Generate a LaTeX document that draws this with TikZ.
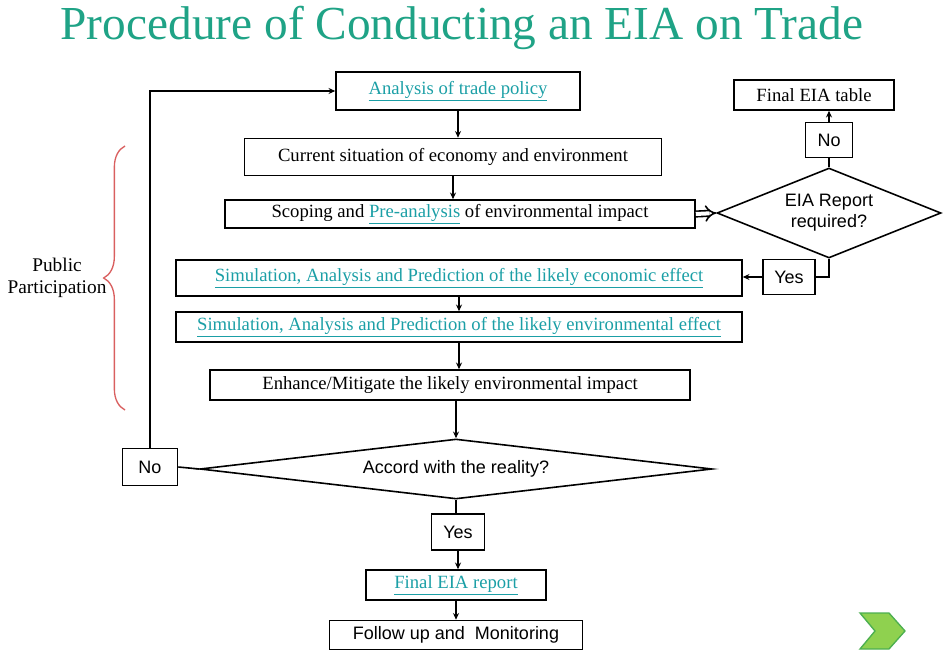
\documentclass[tikz,border=0pt]{standalone}
\usepackage{fontspec}
\setmainfont{Liberation Serif}
\setsansfont{Liberation Sans}
\usepackage{tikz}
\usetikzlibrary{arrows.meta,shapes.geometric,decorations.pathreplacing}
\definecolor{title}{HTML}{1FA386}
\definecolor{link}{HTML}{1B9FA6}
\definecolor{bracered}{HTML}{D95F5F}
\definecolor{chevfill}{HTML}{8FD14F}
\definecolor{chevline}{HTML}{4CAF50}
\newcommand{\lnk}[1]{\textcolor{link}{\underline{#1}}}
\tikzset{
  line/.style={draw=black, line width=1.2pt},
  arrow/.style={line, -{Stealth[length=5pt,width=4.5pt]}},
  box/.style={draw=black, line width=1.2pt, inner sep=0pt, font=\fontsize{14}{16}\selectfont},
  sbox/.style={box, font=\sffamily\fontsize{13.5}{16}\selectfont},
  decision/.style={diamond, draw=black, line width=1.2pt, inner sep=0pt, align=center,
    font=\sffamily\fontsize{13.5}{16}\selectfont},
  lbl/.style={font=\fontsize{14.5}{17}\selectfont, align=center}
}

\begin{document}
\begin{tikzpicture}[x=0.75pt,y=-0.75pt]
  \useasboundingbox (0,0) rectangle (945,652);

  \node[text=title, font=\fontsize{35.5}{40}\selectfont, anchor=base] (title) at (462,40)
    {Procedure of Conducting an EIA on Trade};

  \node[box, minimum width=183pt, minimum height=28.5pt] (policy) at (458,91) {\lnk{Analysis of trade policy}};
  \node[box, minimum width=312.75pt, minimum height=27.75pt] (current) at (453,157) {Current situation of economy and environment};
  \node[box, minimum width=352.5pt, minimum height=21pt] (scoping) at (460,214) {Scoping and \lnk{Pre-analysis} of\ environmental impact};
  \node[box, minimum width=424.5pt, minimum height=27pt] (simecon) at (459,278) {\lnk{Simulation, Analysis and Prediction of the likely economic effect}};
  \node[box, minimum width=424.5pt, minimum height=22.5pt] (simenv) at (459,327) {\lnk{Simulation, Analysis and Prediction of the likely environmental effect}};
  \node[box, minimum width=360pt, minimum height=22.5pt] (enhance) at (450,385) {Enhance/Mitigate the likely environmental impact};
  \node[decision, aspect=8.53, minimum width=384pt, minimum height=45pt] (accord) at (456,469) {Accord with the reality?};
  \node[sbox, minimum width=41.25pt, minimum height=27.75pt] (noleft) at (150,467) {No};
  \node[sbox, minimum width=39.75pt, minimum height=27pt] (yesdown) at (458,532) {Yes};
  \node[box, minimum width=135pt, minimum height=22.5pt] (report) at (456,585) {\lnk{Final EIA report}};
  \node[sbox, minimum width=189.75pt, minimum height=21.75pt] (follow) at (456,635) {Follow up and\ \ Monitoring};

  \node[decision, aspect=2.49, minimum width=168pt, minimum height=67.5pt] (required) at (829,213) {EIA Report\\required?};
  \node[sbox, minimum width=35.25pt, minimum height=26.25pt] (noright) at (829,140) {No};
  \node[box, minimum width=120pt, minimum height=22.5pt] (table) at (814,95) {Final EIA table};
  \node[sbox, minimum width=39pt, minimum height=26.25pt] (yesright) at (789,277) {Yes};

  \node[lbl] (public) at (57,278) {Public\\Participation};

  \draw[arrow] (policy.south) -- (policy.south |- current.north);
  \draw[arrow] (current) -- (scoping.north -| current.south);
  \draw[line, double, double distance=3pt, -{Implies}] (scoping.east) -- (required.west);
  \draw[line] (required.north) -- (noright.south);
  \draw[arrow] (noright.north) -- (noright.north |- table.south);
  \draw[line] (required.south) |- (yesright.east);
  \draw[arrow] (yesright.west) -- (simecon.east |- yesright.west);
  \draw[arrow] (simecon) -- (simenv);
  \draw[arrow] (simenv) -- (simenv.south |- enhance.north);
  \draw[arrow] (enhance.south -| accord.north) -- (accord.north);
  \draw[line] (accord.west) -- (noleft.east);
  \draw[arrow] (noleft.north) |- (policy.west);
  \draw[line] (accord.south) -- (accord.south |- yesdown.north);
  \draw[arrow] (yesdown.south) -- (yesdown.south |- report.north);
  \draw[arrow] (report) -- (report.center |- follow.north);

  \draw[draw=bracered, line width=1pt, decorate, decoration={brace, amplitude=16pt}]
    (125,410) -- (125,146);

  \filldraw[fill=chevfill, draw=chevline, line width=1pt]
    (860,613) -- (889,613) -- (905,631) -- (889,649) -- (860,649) -- (875,631) -- cycle;
\end{tikzpicture}
\end{document}
